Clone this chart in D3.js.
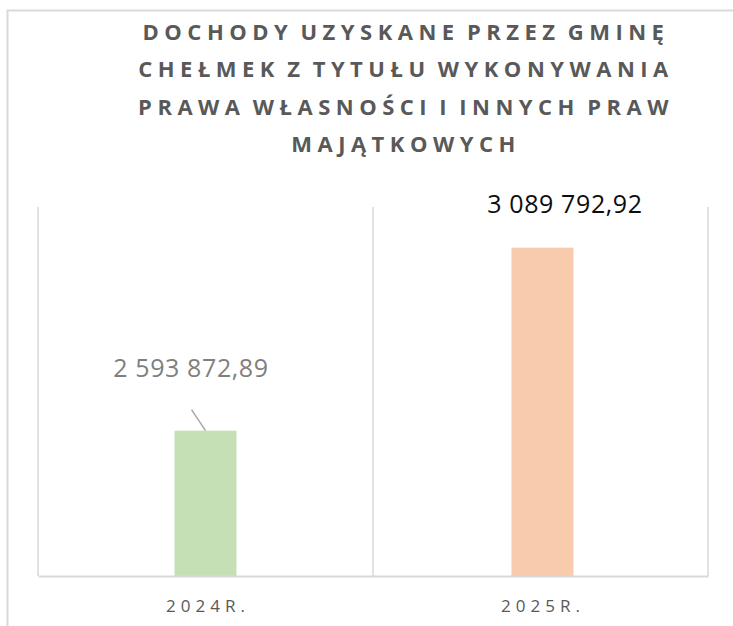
<!DOCTYPE html>
<html>
<head>
<meta charset="utf-8">
<script src="https://cdn.jsdelivr.net/npm/d3@7"></script>
<style>
  body { margin: 0; background: #fff; }
  text { font-family: "Open Sans", sans-serif; }
</style>
</head>
<body>
<div id="container"></div>
<script>
/* DATA */
const years = ["2024R.", "2025R."];
const values = [2593872.89, 3089792.92];
const valueLabels = ["2 593 872,89", "3 089 792,92"];
const colors = ["#c5e0b4", "#f8cbad"];
const titleLines = [
  "DOCHODY UZYSKANE PRZEZ GMINĘ",
  "CHEŁMEK Z TYTUŁU WYKONYWANIA",
  "PRAWA WŁASNOŚCI I INNYCH PRAW",
  "MAJĄTKOWYCH"
];

/* CONSTANTS */
const width = 733, height = 626;
const plot = { left: 38, right: 708, top: 207, bottom: 576 };

const svg = d3.select("#container")
  .append("svg")
  .attr("width", width)
  .attr("height", height);

// chart frame (only top + left edges visible in the shot)
svg.append("path")
  .attr("d", `M7.5,${height} V10.5 H${width}`)
  .attr("fill", "none")
  .attr("stroke", "#d9d9d9")
  .attr("stroke-width", 2);

// title
svg.append("g")
  .selectAll("text")
  .data(titleLines)
  .join("text")
  .attr("x", 406)
  .attr("y", (d, i) => 40 + i * 37.3)
  .attr("text-anchor", "middle")
  .attr("fill", "#595959")
  .style("font-size", "22px")
  .style("font-weight", "bold")
  .style("letter-spacing", "5.5px")
  .style("word-spacing", "-4px")
  .text(d => d);

// SCALES
const x = d3.scaleBand()
  .domain(years)
  .range([plot.left, plot.right])
  .paddingInner(0)
  .paddingOuter(0);

const y = d3.scaleLinear()
  .domain([2200000, 3200000])
  .range([plot.bottom, plot.top]);

// vertical category gridlines
const gridX = [plot.left, ...years.map(d => x(d) + x.bandwidth())];
svg.append("g")
  .selectAll("line")
  .data(gridX)
  .join("line")
  .attr("x1", d => d).attr("x2", d => d)
  .attr("y1", plot.top).attr("y2", plot.bottom)
  .attr("stroke", "#d9d9d9")
  .attr("stroke-width", 1.5);

// bars
const barW = 62;
svg.append("g")
  .selectAll("rect")
  .data(values)
  .join("rect")
  .attr("x", (d, i) => x(years[i]) + x.bandwidth() / 2 - barW / 2 + i * 2)
  .attr("y", d => y(d))
  .attr("width", barW)
  .attr("height", d => plot.bottom - y(d))
  .attr("fill", (d, i) => colors[i]);

// baseline axis
const xAxis = svg.append("g")
  .attr("transform", `translate(0,${plot.bottom})`)
  .call(d3.axisBottom(x).tickSize(0).tickPadding(24));
xAxis.select(".domain").attr("stroke", "#d9d9d9").attr("stroke-width", 2);
xAxis.selectAll("text")
  .attr("dx", 2.5)
  .attr("fill", "#595959")
  .style("font-size", "17px")
  .style("letter-spacing", "5px")
  .style("font-family", "'Open Sans', sans-serif");

// data labels
// 2024 label pulled up with a leader line
const c0 = x(years[0]) + x.bandwidth() / 2;
svg.append("line")
  .attr("x1", c0 - 14).attr("y1", y(values[0]) - 21)
  .attr("x2", c0).attr("y2", y(values[0]))
  .attr("stroke", "#a6a6a6")
  .attr("stroke-width", 1.5);
svg.append("text")
  .attr("x", 191)
  .attr("y", 377)
  .attr("text-anchor", "middle")
  .attr("fill", "#7f7f7f")
  .style("font-size", "25px")
  .style("letter-spacing", "0.6px")
  .text(valueLabels[0]);

svg.append("text")
  .attr("x", 565)
  .attr("y", 213)
  .attr("text-anchor", "middle")
  .attr("fill", "#0d0d0d")
  .style("font-size", "25px")
  .style("letter-spacing", "0.6px")
  .text(valueLabels[1]);
</script>
</body>
</html>
